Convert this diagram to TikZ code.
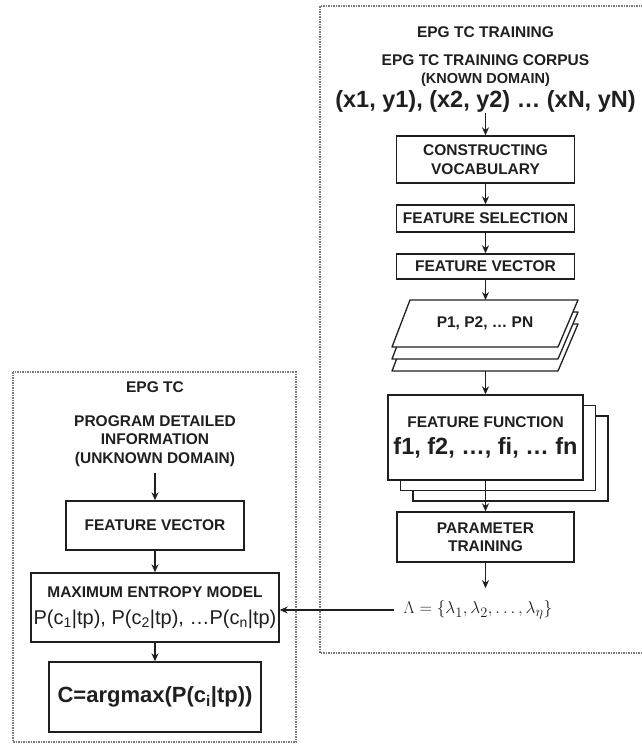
\documentclass[tikz,border=0pt]{standalone}
\usepackage{fontspec}
\setmainfont{Liberation Sans}
\usetikzlibrary{arrows.meta, positioning, calc}
\definecolor{cdark}{HTML}{1F1F1F}
\definecolor{cgrey}{HTML}{7A7A7A}
\newcommand{\txtsize}{\fontsize{15.5}{18.5}\selectfont}
\newcommand{\bigsize}{\fontsize{23.5}{26}\selectfont}
\tikzset{
  every picture/.style={font=\txtsize\bfseries, line width=1.4pt},
  box/.style={draw=cdark, fill=white, align=center, inner sep=2pt, text=cdark},
  arrow/.style={-{Stealth[length=8pt, width=7pt]}, draw=cdark, line width=1.3pt},
  frame/.style={draw=cgrey, line width=1.2pt, dash pattern=on 1.5pt off 1pt},
  title/.style={font=\txtsize\bfseries, text=cdark, inner sep=0pt},
  note/.style={text=cdark, align=center, inner sep=0pt},
}

\begin{document}
\begin{tikzpicture}[x=1pt, y=-1pt,
                    sheet/.style={draw=cdark, fill=white, line width=1.3pt, line join=round}]
  \useasboundingbox (0,0) rectangle (641,745);
  % training side
  \draw[frame] (320,6) rectangle (648,653);
  \node[title] (trtitle) at (485.5,32) {EPG TC TRAINING};
  \node[note] (corpus) at (485.5,60) {EPG TC TRAINING CORPUS};
  \node[note, font=\fontsize{14.5}{17}\selectfont\bfseries] (known) at (485.5,80) {(KNOWN DOMAIN)};
  \node[note, font=\bigsize\bfseries] (pairs) at (485.5,101) {(x1, y1), (x2, y2) … (xN, yN)};
  \node[box, minimum width=178pt, minimum height=47pt] (vocab) at (485.5,159.5) {CONSTRUCTING\\VOCABULARY};
  \node[box, minimum width=178pt, minimum height=27pt] (fsel) at (485.5,218.5) {FEATURE SELECTION};
  \node[box, minimum width=178pt, minimum height=25pt] (fvec) at (485.5,266.5) {FEATURE VECTOR};
  \foreach \d in {24,12,0}
    \draw[sheet] (392,{347+\d}) -- (410,{300+\d}) -- (578,{300+\d}) -- (558,{347+\d}) -- cycle;
  \coordinate (stacktop) at (485.5,300);
  \coordinate (stackbot) at (485.5,371);
  \node[note] (plist) at (485,323) {P1, P2, … PN};
  \foreach \i in {2,1}
    \node[box, minimum width=195pt, minimum height=85pt] (ffun\i) at ({485.5+12.5*\i},{437.5+10.5*\i}) {};
  \node[box, minimum width=195pt, minimum height=85pt] (ffun) at (485.5,437.5) {FEATURE FUNCTION\\[8pt]{\bigsize f1, f2, …, fi, … fn}};
  \node[box, minimum width=177pt, minimum height=50pt] (ptrain) at (485.5,537) {PARAMETER\\TRAINING};
  \node[note, font=\fontsize{19}{22}\selectfont] (lambda) at (478,610) {$\Lambda=\{\lambda_1, \lambda_2, \ldots, \lambda_\eta\}$};
  \draw[arrow] (pairs) -- (vocab);
  \draw[arrow] (vocab) -- (fsel);
  \draw[arrow] (fsel) -- (fvec);
  \draw[arrow] (fvec) -- (stacktop);
  \draw[arrow] (stackbot) -- (ffun);
  \draw[arrow] (ffun) -- (ptrain);
  \draw[arrow, shorten >=12pt] (ptrain) -- (ptrain |- lambda.north);
  % classification side
  \draw[frame] (13,372) rectangle (296,742);
  \node[title] (tctitle) at (155,387) {EPG TC};
  \node[note] (prog) at (155,441) {PROGRAM DETAILED\\INFORMATION\\(UNKNOWN DOMAIN)};
  \node[box, minimum width=178pt, minimum height=49pt] (fvec2) at (155,525.5) {FEATURE VECTOR};
  \node[box, minimum width=248pt, minimum height=69pt] (maxent) at (155,607.5) {MAXIMUM ENTROPY MODEL\\[9pt]{\fontsize{20}{22}\selectfont\mdseries P(c\textsubscript{1}|tp), P(c\textsubscript{2}|tp), …P(c\textsubscript{n}|tp)}};
  \node[box, minimum width=212pt, minimum height=70pt, font=\fontsize{22}{24}\selectfont\bfseries] (argmax) at (155,697) {C=argmax(P(c\textsubscript{i}|tp))};
  \draw[arrow, shorten <=6pt] (prog) -- (fvec2);
  \draw[arrow] (fvec2) -- (maxent);
  \draw[arrow] (maxent) -- (argmax);
  \draw[arrow, shorten <=9pt] (lambda.west) -- (lambda.west -| maxent.east);
\end{tikzpicture}
\end{document}
